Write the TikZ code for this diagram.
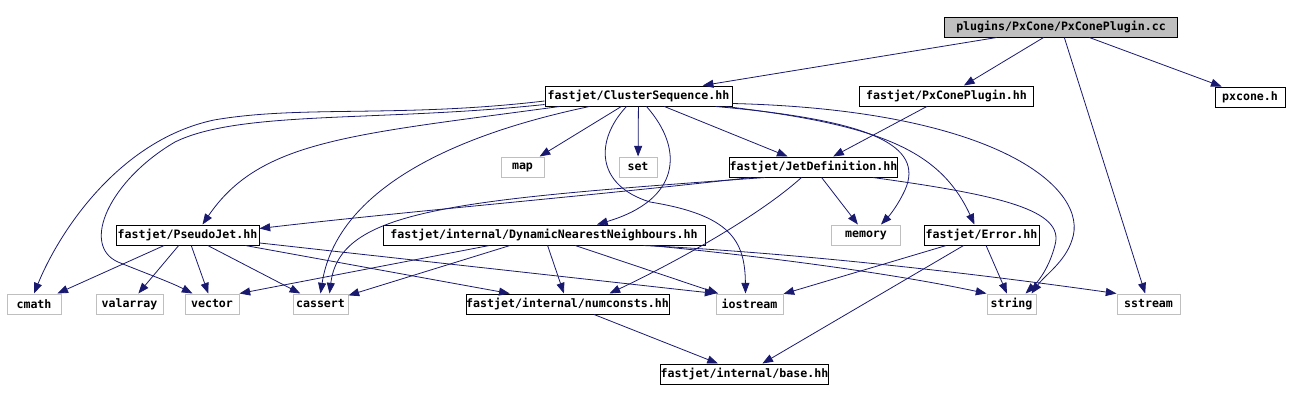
\documentclass[tikz,border=0pt]{standalone}
\usepackage{fontspec}
\setmonofont{DejaVu Sans Mono}
\usetikzlibrary{arrows.meta,calc}
\definecolor{edgeblue}{RGB}{25,25,112}
\definecolor{boxgray}{RGB}{191,191,191}

\begin{document}
\begin{tikzpicture}[x=0.75pt,y=-0.75pt,
    file/.style={draw=black,line width=0.75pt,minimum width=#1*0.75pt,
      minimum height=15pt,inner sep=0pt,
      font=\ttfamily\bfseries\fontsize{8.7}{10}\selectfont},
    root/.style={file=#1,fill=boxgray},
    sys/.style={file=#1,draw=boxgray},
    dep/.style={draw=edgeblue,line width=0.6pt,-{Triangle[length=8pt,width=6pt]}}]

  \useasboundingbox (0,0) rectangle (1289,401);

  % files
  \node[root=233] (pxcc)      at (1061,27)    {plugins/PxCone/PxConePlugin.cc};
  \node[file=187] (clseq)     at (638.5,96)   {fastjet/ClusterSequence.hh};
  \node[file=174] (pxhh)      at (946.5,96)   {fastjet/PxConePlugin.hh};
  \node[file=70]  (pxcone)    at (1250,97)    {pxcone.h};
  \node[sys=43]   (map)       at (522.5,167)  {map};
  \node[sys=38]   (set)       at (638,167)    {set};
  \node[file=163] (jetdef)    at (813.5,167)  {fastjet/JetDefinition.hh};
  \node[file=143] (pjet)      at (187.5,235)  {fastjet/PseudoJet.hh};
  \node[file=322] (dnn)       at (544,235)    {fastjet/internal/DynamicNearestNeighbours.hh};
  \node[sys=69]   (memory)    at (866,235)    {memory};
  \node[file=115] (error)     at (981.5,235)  {fastjet/Error.hh};
  \node[sys=54]   (cmath)     at (34,304)     {cmath};
  \node[sys=67]   (valarray)  at (129.5,304)  {valarray};
  \node[sys=54]   (vector)    at (212,304)    {vector};
  \node[sys=55]   (cassert)   at (320.5,304)  {cassert};
  \node[file=203] (numconsts) at (567.5,304)  {fastjet/internal/numconsts.hh};
  \node[sys=67]   (iostream)  at (749.5,304)  {iostream};
  \node[sys=49]   (string)    at (1011.5,304) {string};
  \node[sys=63]   (sstream)   at (1148.5,304) {sstream};
  \node[file=163] (base)      at (744.5,374)  {fastjet/internal/base.hh};

  \begin{scope}[every edge/.style={dep}]
    % plugins/PxCone/PxConePlugin.cc
    \path (pxcc) edge (clseq);
    \path (pxcc) edge (pxhh);
    \path (pxcc) edge (sstream);
    \path (pxcc) edge (pxcone);

    % fastjet/ClusterSequence.hh
    \draw[dep] ($(clseq.west)+(0,5)$) .. controls (400,118) and (300,105) .. (214,120)
      .. controls (120,140) and (60,230) .. (cmath.north);
    \draw[dep] ($(clseq.south west)+(0,-2)$) .. controls (380,122) and (240,110) .. (175,142)
      .. controls (110,180) and (80,245) .. (118,262)
      .. controls (150,275) and (170,282) .. ($(vector.north west)+(8,0)$);
    \draw[dep] ($(clseq.south west)+(15,0)$) .. controls (350,135) and (260,140) .. ($(pjet.north)+(15,0)$);
    \draw[dep] ($(clseq.south west)+(45,0)$) .. controls (430,140) and (335,200) .. (cassert.north);
    \path (clseq) edge (map);
    \path (clseq) edge (set);
    \draw[dep] ($(clseq.south)+(8,0)$) .. controls (685,150) and (680,200) .. ($(dnn.north)+(53,0)$);
    \draw[dep] ($(clseq.south)+(-12,0)$) .. controls (595,140) and (595,185) .. (650,202)
      .. controls (730,215) and (745,240) .. ($(iostream.north)+(-4,0)$);
    \path (clseq) edge (jetdef);
    \draw[dep] ($(clseq.south east)+(-17,0)$) .. controls (870,120) and (925,145) .. (905,190)
      .. controls (898,205) and (890,215) .. ($(memory.north)+(15,0)$);
    \draw[dep] ($(clseq.south east)+(-7,0)$) .. controls (880,125) and (940,150) .. ($(error.north)+(-7,0)$);
    \draw[dep] ($(clseq.south east)+(0,-3)$) .. controls (1000,110) and (1090,190) .. (1072,240)
      .. controls (1065,262) and (1045,275) .. ($(string.north)+(20,0)$);

    % fastjet/PxConePlugin.hh
    \path (pxhh) edge (jetdef);

    % fastjet/JetDefinition.hh
    \draw[dep] ($(jetdef.south west)+(22,0)$) .. controls (600,195) and (400,212) .. ($(pjet.north east)+(0,4)$);
    \draw[dep] ($(jetdef.south west)+(36,0)$) .. controls (450,200) and (340,210) .. ($(cassert.north)+(9,0)$);
    \draw[dep] ($(jetdef.south)+(-12,0)$) .. controls (760,215) and (680,260) .. ($(numconsts.north)+(42,0)$);
    \path (jetdef) edge (memory);
    \draw[dep] ($(jetdef.south east)+(-25,0)$) .. controls (1000,195) and (1065,210) .. (1055,245)
      .. controls (1050,265) and (1040,280) .. ($(string.north)+(14,0)$);

    % fastjet/PseudoJet.hh
    \path (pjet) edge (cmath);
    \path (pjet) edge (valarray);
    \path (pjet) edge (vector);
    \path (pjet) edge (cassert);
    \path (pjet) edge (numconsts);
    \path (pjet) edge (iostream.north west);

    % fastjet/internal/DynamicNearestNeighbours.hh
    \path (dnn) edge (vector.north east);
    \path (dnn) edge (cassert);
    \path (dnn) edge (numconsts);
    \path (dnn) edge (iostream);
    \draw[dep] ($(dnn.south east)+(-55,0)$) .. controls (780,258) and (900,275) .. (string.north west);
    \draw[dep] ($(dnn.south east)+(-62,0)$) .. controls (780,252) and (950,270) .. (sstream.north west);

    % fastjet/Error.hh
    \path (error) edge (iostream);
    \path (error) edge (string);
    \path (error) edge (base);

    % fastjet/internal/numconsts.hh
    \path (numconsts) edge (base);
  \end{scope}

\end{tikzpicture}
\end{document}
